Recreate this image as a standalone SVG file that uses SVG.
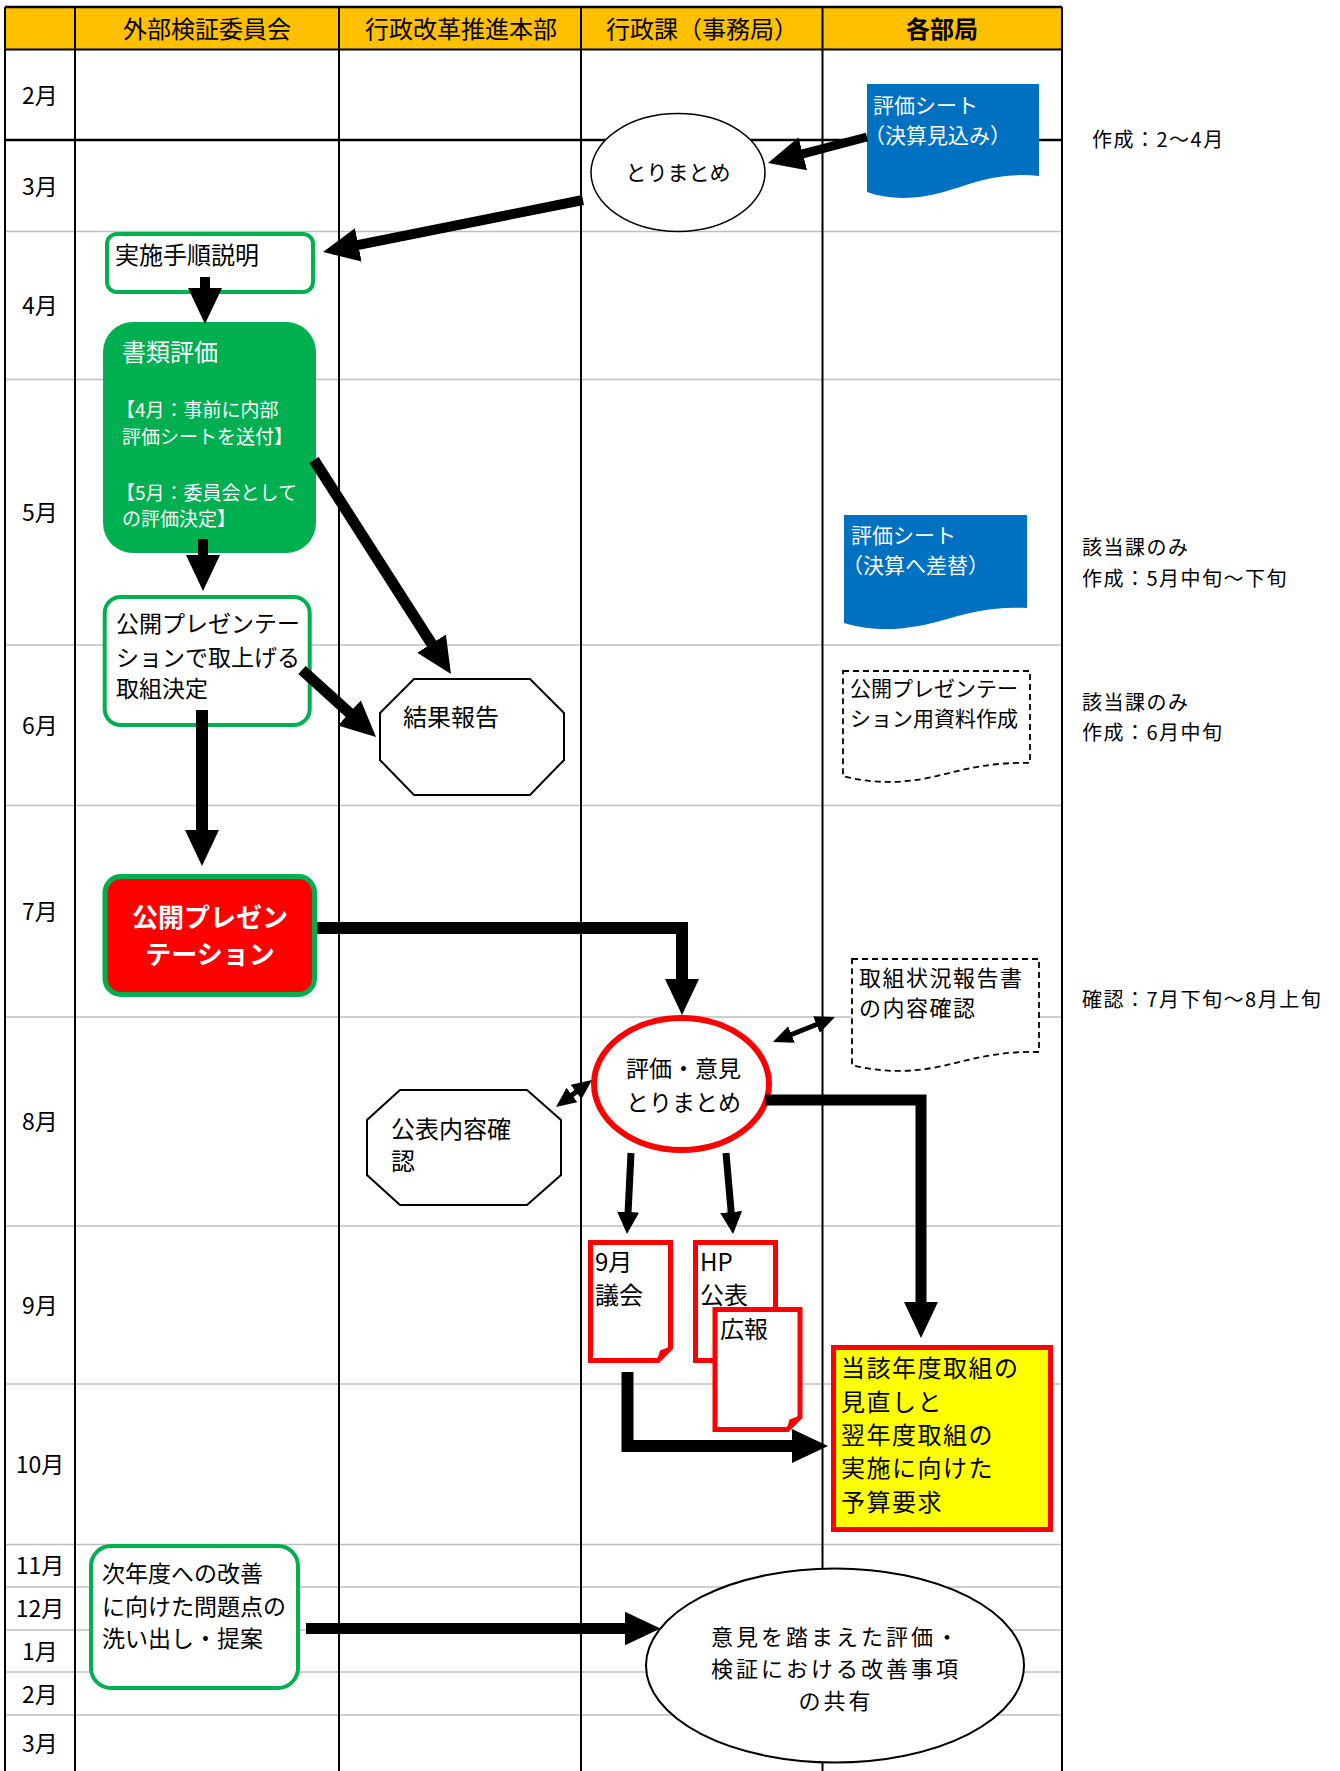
<svg xmlns="http://www.w3.org/2000/svg" width="1340" height="1771" viewBox="0 0 1340 1771">
<style>
text{font-family:'Noto Sans CJK JP','Noto Sans',sans-serif;fill:#000}
.hd{font-size:24px;text-anchor:middle}
.mo{font-size:23px;text-anchor:middle}
.t24{font-size:24px}
.t23{font-size:23px}
.t21{font-size:21px}
.t19{font-size:19px}
.w{fill:#fff}
.note{font-size:20px;letter-spacing:1.5px}
.vline{stroke:#000;stroke-width:2}
.gline{stroke:#BFBFBF;stroke-width:1.5}
.gbox{fill:#fff;stroke:#00B050;stroke-width:4}
.oct{fill:#fff;stroke:#000;stroke-width:2}
.ddoc{fill:#fff;stroke:#000;stroke-width:1.8;stroke-dasharray:6 4}
.bdoc{fill:#0070C0}
.rdoc{fill:#fff;stroke:#FF0000;stroke-width:5;stroke-linejoin:miter}
.curl{fill:#FF0000;stroke:#FF0000;stroke-width:2}
.ar{fill:none;stroke:#000;stroke-linecap:butt;stroke-linejoin:miter}
</style>
<defs>
<marker id="ah" markerUnits="userSpaceOnUse" viewBox="0 0 36 34" markerWidth="36" markerHeight="34" refX="6" refY="17" orient="auto"><path d="M0,0 L36,17 L0,34 Z" fill="#000"/></marker>
<marker id="ahs" markerUnits="userSpaceOnUse" viewBox="0 0 22 22" markerWidth="22" markerHeight="22" refX="4" refY="11" orient="auto"><path d="M0,0 L22,11 L0,22 Z" fill="#000"/></marker>
<marker id="ahd" markerUnits="userSpaceOnUse" viewBox="0 0 20 18" markerWidth="20" markerHeight="18" refX="4" refY="9" orient="auto-start-reverse"><path d="M0,0 L20,9 L0,18 Z" fill="#000"/></marker>
</defs>
<rect x="0" y="0" width="1340" height="1771" fill="#fff"/>

<g id="grid">
<rect x="5" y="7" width="1057" height="42.5" fill="#FFC000"/>
<line class="gline" x1="5" y1="231.6" x2="1062" y2="231.6"/>
<line class="gline" x1="5" y1="379.6" x2="1062" y2="379.6"/>
<line class="gline" x1="5" y1="645" x2="1062" y2="645"/>
<line class="gline" x1="5" y1="805.5" x2="1062" y2="805.5"/>
<line class="gline" x1="5" y1="1017" x2="1062" y2="1017"/>
<line class="gline" x1="5" y1="1226" x2="1062" y2="1226"/>
<line class="gline" x1="5" y1="1384" x2="1062" y2="1384"/>
<line class="gline" x1="5" y1="1544.5" x2="1062" y2="1544.5"/>
<line class="gline" x1="5" y1="1587" x2="1062" y2="1587"/>
<line class="gline" x1="5" y1="1630" x2="1062" y2="1630"/>
<line class="gline" x1="5" y1="1672" x2="1062" y2="1672"/>
<line class="gline" x1="5" y1="1715" x2="1062" y2="1715"/>
<line stroke="#000" stroke-width="2.5" x1="5" y1="140" x2="1062" y2="140"/>
<line stroke="#000" stroke-width="2.5" x1="5" y1="7" x2="1062" y2="7"/>
<line stroke="#000" stroke-width="2" x1="5" y1="49.5" x2="1062" y2="49.5"/>
<line class="vline" x1="5" y1="7" x2="5" y2="1771"/>
<line class="vline" x1="75" y1="7" x2="75" y2="1771"/>
<line class="vline" x1="339" y1="7" x2="339" y2="1771"/>
<line class="vline" x1="581" y1="7" x2="581" y2="1771"/>
<line class="vline" x1="822.5" y1="7" x2="822.5" y2="1771"/>
<line class="vline" x1="1062" y1="7" x2="1062" y2="1771"/>
<text class="hd" x="207" y="38">外部検証委員会</text>
<text class="hd" x="461" y="38">行政改革推進本部</text>
<text class="hd" x="702" y="38">行政課（事務局）</text>
<text class="hd" x="942" y="38" font-weight="bold">各部局</text>
<text class="mo" x="40" y="104">2月</text>
<text class="mo" x="40" y="195">3月</text>
<text class="mo" x="40" y="314">4月</text>
<text class="mo" x="40" y="521">5月</text>
<text class="mo" x="40" y="734">6月</text>
<text class="mo" x="40" y="920">7月</text>
<text class="mo" x="40" y="1130">8月</text>
<text class="mo" x="40" y="1314">9月</text>
<text class="mo" x="40" y="1473">10月</text>
<text class="mo" x="40" y="1574">11月</text>
<text class="mo" x="40" y="1617">12月</text>
<text class="mo" x="40" y="1660">1月</text>
<text class="mo" x="40" y="1703">2月</text>
<text class="mo" x="40" y="1752">3月</text>
</g>

<g id="notes">
<text class="note" x="1092" y="146.5">作成：2〜4月</text>
<text class="note" x="1082" y="555">該当課のみ</text>
<text class="note" x="1082" y="586">作成：5月中旬〜下旬</text>
<text class="note" x="1082" y="710">該当課のみ</text>
<text class="note" x="1082" y="740">作成：6月中旬</text>
<text class="note" x="1082" y="1007">確認：7月下旬〜8月上旬</text>
</g>

<g id="node-sheet1">
<path class="bdoc" d="M867,84 H1039 V176 C1000,172 975,182 950,190 C925,198 895,202 867,192 Z"/>
<text class="t21 w" x="873" y="113">評価シート</text>
<text class="t21 w" x="864" y="143">（決算見込み）</text>
</g>

<g id="node-torimatome">
<ellipse cx="678" cy="172.5" rx="87" ry="59" fill="#fff" stroke="#000" stroke-width="1.5"/>
<text class="t21" x="678" y="180" text-anchor="middle">とりまとめ</text>
</g>

<g id="node-jisshi">
<rect class="gbox" x="107" y="234" width="206" height="58" rx="10"/>
<text class="t24" x="115" y="264">実施手順説明</text>
</g>

<g id="node-shorui">
<rect x="103" y="322" width="213" height="231" rx="30" fill="#00B050"/>
<text class="t24 w" x="122" y="361">書類評価</text>
<text class="t19 w" x="116" y="417">【4月：事前に内部</text>
<text class="t19 w" x="122" y="444">評価シートを送付】</text>
<text class="t19 w" x="116" y="500">【5月：委員会として</text>
<text class="t19 w" x="122" y="526">の評価決定】</text>
</g>

<g id="node-kettei">
<rect class="gbox" x="104.7" y="597" width="205" height="128" rx="16"/>
<text class="t23" x="116" y="631.5">公開プレゼンテー</text>
<text class="t23" x="116" y="665.5">ションで取上げる</text>
<text class="t23" x="116" y="696.5">取組決定</text>
</g>

<g id="node-kekka">
<polygon class="oct" points="414,679 530,679 564,713 564,760 530,795 414,795 380,760 380,713"/>
<text class="t24" x="403" y="726">結果報告</text>
</g>

<g id="node-sheet2">
<path class="bdoc" d="M844,515 H1027 V608 C990,606 965,614 940,621 C915,628 880,634 844,623 Z"/>
<text class="t21 w" x="851" y="543">評価シート</text>
<text class="t21 w" x="842" y="573">（決算へ差替）</text>
</g>

<g id="node-shiryo">
<path class="ddoc" d="M843,671 H1030 V763 C995,762 970,768 945,774 C915,782 880,786 843,776 Z"/>
<text class="t21" x="850" y="696">公開プレゼンテー</text>
<text class="t21" x="850" y="726">ション用資料作成</text>
</g>

<g id="node-present">
<rect x="105" y="876.5" width="209.5" height="118" rx="16" fill="#FF0000" stroke="#00B050" stroke-width="5"/>
<text x="210" y="927" font-size="26" font-weight="bold" text-anchor="middle" class="w">公開プレゼン</text>
<text x="210" y="964" font-size="26" font-weight="bold" text-anchor="middle" class="w">テーション</text>
</g>

<g id="node-hokokusho">
<path class="ddoc" d="M852,959 H1039 V1052 C1005,1051 980,1057 955,1063 C925,1071 890,1075 852,1065 Z"/>
<text x="859" y="986" font-size="22" letter-spacing="1.5">取組状況報告書</text>
<text x="859" y="1016" font-size="22" letter-spacing="1.5">の内容確認</text>
</g>

<g id="node-hyoka">
<ellipse cx="681.5" cy="1084" rx="87.5" ry="66" fill="#fff" stroke="#FF0000" stroke-width="6"/>
<text class="t23" x="626" y="1076.5">評価・意見</text>
<text class="t23" x="626" y="1110.5">とりまとめ</text>
</g>

<g id="node-kohyo">
<polygon class="oct" points="400,1090 527,1090 561,1120 561,1175 527,1205 400,1205 367,1175 367,1120"/>
<text class="t24" x="391" y="1138">公表内容確</text>
<text class="t24" x="391" y="1170">認</text>
</g>

<g id="node-gikai">
<path class="rdoc" d="M590.5,1242.5 H670.5 V1348 L658,1360.5 H590.5 Z"/>
<polygon class="curl" points="658,1360.5 661,1351 670.5,1348"/>
<text class="t24" x="595" y="1271">9月</text>
<text class="t24" x="595" y="1304">議会</text>
</g>

<g id="node-hp">
<path class="rdoc" d="M695.5,1242.5 H775.5 V1348 L763,1360.5 H695.5 Z"/>
<text class="t24" x="700" y="1271">HP</text>
<text class="t24" x="700" y="1304">公表</text>
</g>

<g id="node-koho">
<path class="rdoc" d="M715,1309.5 H800 V1417 L787.5,1429.5 H715 Z"/>
<polygon class="curl" points="787.5,1429.5 790.5,1420 800,1417"/>
<text class="t24" x="720" y="1338">広報</text>
</g>

<g id="node-yosan">
<rect x="833.5" y="1347.5" width="217" height="182" fill="#FFFF00" stroke="#FF0000" stroke-width="5"/>
<text class="t24" x="841" y="1377" letter-spacing="1.5">当該年度取組の</text>
<text class="t24" x="841" y="1411" letter-spacing="1.5">見直しと</text>
<text class="t24" x="841" y="1444" letter-spacing="1.5">翌年度取組の</text>
<text class="t24" x="841" y="1477" letter-spacing="1.5">実施に向けた</text>
<text class="t24" x="841" y="1511" letter-spacing="1.5">予算要求</text>
</g>

<g id="node-jinendo">
<rect class="gbox" x="91" y="1546" width="207" height="142" rx="20"/>
<text class="t23" x="102" y="1581.5">次年度への改善</text>
<text class="t23" x="102" y="1614.5">に向けた問題点の</text>
<text class="t23" x="102" y="1646.5">洗い出し・提案</text>
</g>

<g id="node-kyoyu">
<ellipse cx="835" cy="1665.5" rx="189" ry="97" fill="#fff" stroke="#000" stroke-width="2"/>
<text x="836" y="1645" font-size="22" text-anchor="middle" letter-spacing="3">意見を踏まえた評価・</text>
<text x="836" y="1677" font-size="22" text-anchor="middle" letter-spacing="3">検証における改善事項</text>
<text x="836" y="1709" font-size="22" text-anchor="middle" letter-spacing="3">の共有</text>
</g>

<g id="connectors">
<line class="ar" x1="867" y1="137" x2="797" y2="155.4" stroke-width="9" marker-end="url(#ah)"/>
<line class="ar" x1="583" y1="200" x2="352.4" y2="246.1" stroke-width="10" marker-end="url(#ah)"/>
<line class="ar" x1="205" y1="277" x2="205" y2="294" stroke-width="10" marker-end="url(#ah)"/>
<line class="ar" x1="203" y1="539" x2="203" y2="561" stroke-width="10" marker-end="url(#ah)"/>
<line class="ar" x1="314" y1="460" x2="434.8" y2="648.7" stroke-width="11" marker-end="url(#ah)"/>
<line class="ar" x1="302" y1="670" x2="353.8" y2="716.9" stroke-width="11" marker-end="url(#ah)"/>
<line class="ar" x1="202" y1="710" x2="202" y2="836" stroke-width="12" marker-end="url(#ah)"/>
<polyline class="ar" points="317,928 682,928 682,985" stroke-width="12" marker-end="url(#ah)"/>
<line class="ar" x1="787.8" y1="1036" x2="820.2" y2="1023" stroke-width="5" marker-start="url(#ahd)" marker-end="url(#ahd)"/>
<line class="ar" x1="568.8" y1="1097.4" x2="579.2" y2="1089.6" stroke-width="5" marker-start="url(#ahd)" marker-end="url(#ahd)"/>
<polyline class="ar" points="765,1100 921,1100 921,1308" stroke-width="11" marker-end="url(#ah)"/>
<line class="ar" x1="631" y1="1153" x2="627.9" y2="1216" stroke-width="7" marker-end="url(#ahs)"/>
<line class="ar" x1="726" y1="1153" x2="731.5" y2="1216" stroke-width="7" marker-end="url(#ahs)"/>
<polyline class="ar" points="627.5,1372 627.5,1446 798,1446" stroke-width="12" marker-end="url(#ah)"/>
<line class="ar" x1="306" y1="1628.5" x2="630.5" y2="1628.5" stroke-width="11" marker-end="url(#ah)"/>
</g>
</svg>
